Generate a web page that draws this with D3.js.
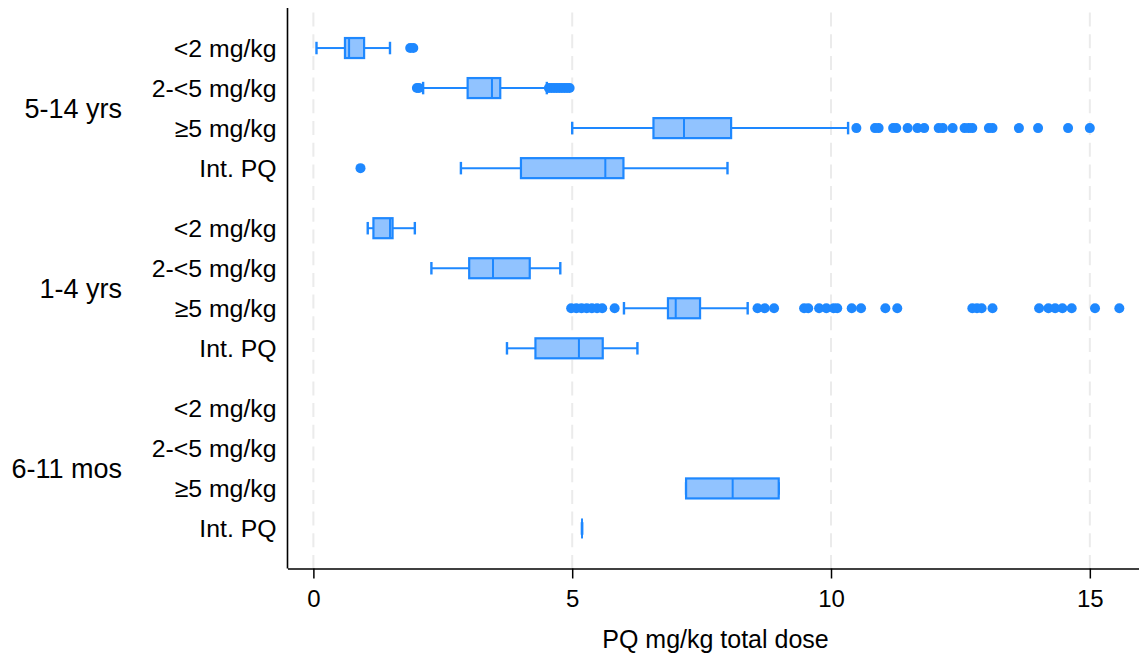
<!DOCTYPE html>
<html>
<head>
<meta charset="utf-8">
<script src="https://cdn.jsdelivr.net/npm/d3@7"></script>
<style>
  html, body { margin: 0; padding: 0; background: #fff; }
  svg { display: block; font-family: "Liberation Sans", Arial, Helvetica, sans-serif; }
</style>
</head>
<body>
<svg id="chart" width="1139" height="664"></svg>
<script>
// Age groups and dose bands (rows within each group, top to bottom)
const ageGroups = ["5-14 yrs", "1-4 yrs", "6-11 mos"];
const doseBands = ["<2 mg/kg", "2-<5 mg/kg", "≥5 mg/kg", "Int. PQ"];

// Box statistics per age group, one entry per dose band (null = no data)
const whiskerLow = [
  [0.06, 2.12, 5.0, 2.85],
  [1.05, 2.28, 6.0, 3.74],
  [null, null, 7.2, 5.19]
];
const quartile1 = [
  [0.61, 2.98, 6.57, 4.01],
  [1.16, 3.01, 6.85, 4.29],
  [null, null, 7.2, 5.19]
];
const medians = [
  [0.69, 3.45, 7.16, 5.64],
  [1.48, 3.47, 7.0, 5.13],
  [null, null, 8.1, 5.19]
];
const quartile3 = [
  [0.98, 3.61, 8.07, 5.99],
  [1.53, 4.18, 7.47, 5.59],
  [null, null, 8.99, 5.19]
];
const whiskerHigh = [
  [1.48, 4.51, 10.33, 8.0],
  [1.96, 4.77, 8.39, 6.26],
  [null, null, 8.99, 5.19]
];
const outliers = [
  [
    [1.87, 1.93],
    [2.0, 2.04, 4.55, 4.6, 4.65, 4.7, 4.75, 4.8, 4.85, 4.9, 4.95],
    [10.49, 10.85, 10.92, 11.2, 11.26, 11.48, 11.67, 11.8, 12.08, 12.16, 12.35, 12.58, 12.66, 12.73, 13.05, 13.12, 13.63, 14.0, 14.58, 15.0],
    [0.91]
  ],
  [
    [],
    [],
    [4.98, 5.08, 5.18, 5.28, 5.38, 5.48, 5.58, 5.82, 8.58, 8.72, 8.9, 9.48, 9.56, 9.77, 9.91, 10.05, 10.12, 10.4, 10.58, 11.05, 11.28, 12.73, 12.82, 12.91, 13.12, 14.02, 14.2, 14.33, 14.47, 14.65, 15.1, 15.57],
    []
  ],
  [[], [], [], []]
];
const xTicks = [0, 5, 10, 15];
const xTitle = "PQ mg/kg total dose";

const lineColor = "#1e88ff";
const fillColor = "#91c3ff";

const svg = d3.select("#chart");

// Horizontal value scale and vertical slot scale (groups separated by half a slot)
const x = d3.scaleLinear().domain([-0.5, 15.95]).range([287.5, 1139]);
const y = d3.scaleLinear().domain([-1, 13]).range([8, 568.5]);
const slotOf = (g, c) => g * 4.5 + c;

const plotTop = y(-1), plotBottom = y(13);

// Dashed vertical gridlines
svg.append("g").selectAll("line")
  .data(xTicks)
  .join("line")
  .attr("x1", d => x(d)).attr("x2", d => x(d))
  .attr("y1", plotTop + 4.5).attr("y2", plotBottom)
  .attr("stroke", "#ebebeb")
  .attr("stroke-width", 2)
  .attr("stroke-dasharray", "14,7.7");

// Bottom axis
const xAxis = d3.axisBottom(x).tickValues(xTicks).tickSize(10).tickSizeOuter(0)
  .tickPadding(11).tickFormat(d3.format("d"));
const gx = svg.append("g")
  .attr("transform", `translate(0,${plotBottom})`)
  .call(xAxis);
gx.select(".domain").attr("stroke", "#000").attr("stroke-width", 1.6);
gx.selectAll(".tick line").attr("stroke", "#000").attr("stroke-width", 1.5);
gx.selectAll(".tick text").attr("font-size", 24).attr("fill", "#000")
  .attr("font-family", "'Liberation Sans', Arial, sans-serif");

// Left axis line
svg.append("line")
  .attr("x1", x(-0.5)).attr("x2", x(-0.5))
  .attr("y1", plotTop).attr("y2", plotBottom)
  .attr("stroke", "#000").attr("stroke-width", 1.6);

// Axis title
svg.append("text")
  .attr("x", 715.5)
  .attr("y", 648)
  .attr("text-anchor", "middle")
  .attr("font-size", 25)
  .text(xTitle);

// Row and group labels
ageGroups.forEach((grp, g) => {
  svg.append("text")
    .attr("x", 122)
    .attr("y", y(slotOf(g, 1.5)))
    .attr("dy", "0.36em")
    .attr("text-anchor", "end")
    .attr("font-size", 27)
    .text(grp);
  doseBands.forEach((band, c) => {
    svg.append("text")
      .attr("x", 276.5)
      .attr("y", y(slotOf(g, c)))
      .attr("dy", "0.36em")
      .attr("text-anchor", "end")
      .attr("font-size", 24.8)
      .text(band);
  });
});

// Build box records from the statistic arrays
const boxes = [];
ageGroups.forEach((grp, g) => {
  doseBands.forEach((band, c) => {
    if (medians[g][c] == null) return;
    boxes.push({
      slot: slotOf(g, c),
      lo: whiskerLow[g][c], q1: quartile1[g][c], med: medians[g][c],
      q3: quartile3[g][c], hi: whiskerHigh[g][c], out: outliers[g][c]
    });
  });
});

const boxH = 20, capH = 12.5;
const marks = svg.append("g");

boxes.forEach(b => {
  const cy = y(b.slot);
  const gb = marks.append("g");
  // whiskers
  gb.append("line")
    .attr("x1", x(b.lo)).attr("x2", x(b.q1)).attr("y1", cy).attr("y2", cy)
    .attr("stroke", lineColor).attr("stroke-width", 2);
  gb.append("line")
    .attr("x1", x(b.q3)).attr("x2", x(b.hi)).attr("y1", cy).attr("y2", cy)
    .attr("stroke", lineColor).attr("stroke-width", 2);
  // whisker caps
  [b.lo, b.hi].forEach(v => {
    gb.append("line")
      .attr("x1", x(v)).attr("x2", x(v))
      .attr("y1", cy - capH / 2).attr("y2", cy + capH / 2)
      .attr("stroke", lineColor).attr("stroke-width", 2.4);
  });
  // box
  gb.append("rect")
    .attr("x", x(b.q1)).attr("y", cy - boxH / 2)
    .attr("width", Math.max(0, x(b.q3) - x(b.q1)))
    .attr("height", boxH)
    .attr("fill", fillColor)
    .attr("stroke", lineColor).attr("stroke-width", 2.2);
  // median
  gb.append("line")
    .attr("x1", x(b.med)).attr("x2", x(b.med))
    .attr("y1", cy - boxH / 2).attr("y2", cy + boxH / 2)
    .attr("stroke", lineColor).attr("stroke-width", 2);
  // outliers
  gb.selectAll("circle")
    .data(b.out)
    .join("circle")
    .attr("cx", d => x(d)).attr("cy", cy)
    .attr("r", 5)
    .attr("fill", lineColor);
});
</script>
</body>
</html>
